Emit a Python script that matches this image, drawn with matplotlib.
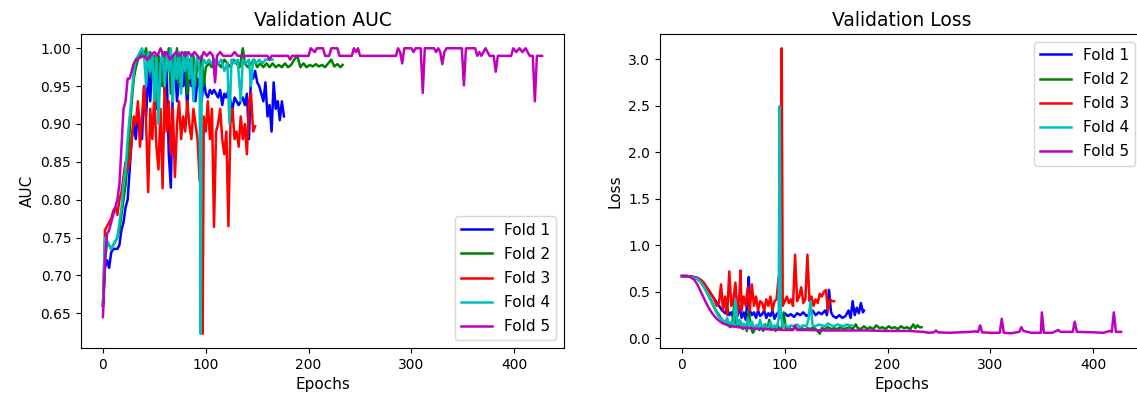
import matplotlib
matplotlib.use('Agg')
import matplotlib.pyplot as plt

# Validation AUC je Fold (Epoche, Wert)
f1_auc_ep = [0, 2, 4, 6, 8, 10, 12, 14, 16, 18, 20, 22, 24, 26, 28, 30, 32, 34, 36, 38, 40, 42, 44, 46, 48, 50,
             52, 54, 56, 58, 60, 62, 64, 66, 68, 70, 72, 74, 76, 78, 80, 82, 84, 86, 88, 90, 92, 94, 96, 98, 100,
             102, 104, 106, 108, 110, 112, 114, 116, 118, 120, 122, 124, 126, 128, 130, 132, 134, 136, 138, 140,
             142, 144, 146, 148, 150, 152, 154, 156, 158, 160, 162, 164, 166, 168, 170, 172, 174, 176]
f1_auc = [0.66, 0.71, 0.72, 0.71, 0.73, 0.735, 0.735, 0.735, 0.74, 0.76, 0.77, 0.79, 0.80, 0.84, 0.88, 0.90, 0.88,
          0.92, 0.90, 0.88, 0.95, 0.91, 0.97, 0.93, 0.99, 0.96, 0.92, 0.98, 0.95, 0.99, 0.94, 0.97, 0.86, 0.816,
          0.95, 0.98, 0.93, 0.96, 0.99, 0.95, 0.97, 0.92, 0.98, 0.95, 0.97, 0.93, 0.96, 0.95, 0.93, 0.96, 0.94,
          0.935, 0.945, 0.94, 0.945, 0.94, 0.935, 0.945, 0.925, 0.94, 0.935, 0.945, 0.93, 0.92, 0.935, 0.93,
          0.925, 0.93, 0.935, 0.925, 0.94, 0.88, 0.965, 0.96, 0.97, 0.955, 0.95, 0.94, 0.93, 0.955, 0.91, 0.925,
          0.89, 0.955, 0.92, 0.93, 0.905, 0.93, 0.91]

f2_auc_ep = [0, 2, 4, 6, 8, 10, 12, 14, 16, 18, 20, 22, 24, 26, 28, 30, 32, 34, 36, 38, 40, 42, 44, 46, 48, 50,
             52, 54, 56, 58, 60, 62, 64, 66, 68, 70, 72, 74, 76, 78, 80, 82, 84, 86, 88, 90, 92, 94, 96, 98, 100,
             103, 106, 109, 112, 115, 118, 121, 124, 127, 130, 133, 136, 138, 141, 144, 147, 150, 153, 156, 159,
             162, 165, 168, 171, 174, 177, 180, 183, 186, 189, 192, 195, 198, 201, 204, 207, 210, 213, 216, 219,
             222, 225, 228, 231, 233]
f2_auc = [0.66, 0.72, 0.745, 0.74, 0.735, 0.74, 0.745, 0.75, 0.76, 0.78, 0.80, 0.82, 0.85, 0.89, 0.93, 0.96, 0.975,
          0.985, 0.99, 0.995, 0.99, 1.0, 0.97, 0.995, 0.96, 0.99, 0.93, 0.99, 0.98, 0.95, 0.995, 0.97, 1.0, 0.94,
          0.99, 0.96, 1.0, 0.95, 0.99, 0.97, 0.995, 0.94, 0.985, 0.96, 0.99, 0.95, 0.985, 0.97, 0.99, 0.95, 0.975,
          0.98, 0.975, 0.985, 0.98, 0.975, 0.985, 0.98, 0.975, 0.985, 0.98, 0.975, 1.0, 0.98, 0.975, 0.98, 0.985,
          0.975, 0.98, 0.975, 0.98, 0.975, 0.98, 0.975, 0.978, 0.975, 0.98, 0.975, 0.978, 0.985, 0.99, 0.975,
          0.98, 0.975, 0.978, 0.976, 0.979, 0.976, 0.978, 0.975, 0.98, 0.985, 0.976, 0.979, 0.975, 0.978]

f3_auc_ep = [0, 2, 4, 6, 8, 10, 12, 14, 16, 18, 20, 22, 24, 26, 28, 30, 32, 34, 36, 38, 40, 42, 44, 46, 48, 50,
             52, 54, 56, 58, 60, 62, 64, 66, 68, 70, 72, 74, 76, 78, 80, 82, 84, 86, 88, 90, 92, 94, 96, 97, 98,
             100, 102, 104, 106, 108, 110, 112, 114, 116, 118, 120, 122, 124, 126, 128, 130, 132, 134, 136, 138,
             140, 142, 144, 146, 148]
f3_auc = [0.66, 0.76, 0.765, 0.77, 0.775, 0.785, 0.79, 0.78, 0.80, 0.81, 0.83, 0.85, 0.84, 0.85, 0.88, 0.91, 0.90,
          0.93, 0.87, 0.91, 0.95, 0.90, 0.81, 0.92, 0.88, 0.94, 0.87, 0.84, 0.92, 0.815, 0.95, 0.89, 0.93, 0.86,
          0.92, 0.83, 0.90, 0.93, 0.88, 0.91, 0.89, 0.93, 0.90, 0.88, 0.92, 0.90, 0.88, 0.825, 0.90, 0.623, 0.91,
          0.89, 0.93, 0.88, 0.92, 0.764, 0.89, 0.90, 0.92, 0.88, 0.86, 0.89, 0.765, 0.90, 0.92, 0.88, 0.89, 0.87,
          0.91, 0.88, 0.90, 0.86, 0.93, 0.94, 0.89, 0.897]

f4_auc_ep = [0, 2, 4, 6, 8, 10, 12, 14, 16, 18, 20, 22, 24, 26, 28, 30, 32, 34, 36, 38, 40, 42, 44, 46, 48, 50,
             52, 54, 56, 58, 60, 62, 64, 66, 68, 70, 72, 74, 76, 78, 80, 82, 84, 86, 88, 90, 92, 94, 95, 96, 98,
             100, 103, 106, 109, 112, 115, 118, 121, 123, 125, 128, 131, 134, 136, 139, 142, 144, 146, 149, 152,
             155, 158, 161, 165]
f4_auc = [0.66, 0.75, 0.745, 0.74, 0.735, 0.74, 0.745, 0.75, 0.77, 0.79, 0.82, 0.84, 0.88, 0.91, 0.94, 0.97, 0.985,
          0.99, 0.995, 1.0, 0.99, 0.95, 0.995, 0.97, 0.99, 0.93, 0.99, 0.90, 0.98, 0.995, 0.95, 0.99, 0.97, 1.0,
          0.93, 0.99, 0.96, 0.995, 0.94, 0.99, 0.97, 0.995, 0.96, 0.99, 0.93, 0.98, 0.99, 0.97, 0.623, 0.97, 0.985,
          0.98, 0.985, 0.98, 0.985, 0.98, 0.985, 0.97, 0.98, 0.90, 0.985, 0.98, 0.985, 0.93, 0.985, 0.98, 0.985,
          0.95, 0.985, 0.98, 0.985, 0.98, 0.985, 0.985, 0.985]

f5_auc_ep = [0, 2, 4, 6, 8, 10, 12, 14, 16, 18, 20, 22, 24, 26, 28, 30, 32, 35, 40, 43, 46, 50, 53, 56, 59, 62,
             65, 68, 71, 74, 77, 80, 83, 86, 89, 92, 95, 98, 101, 104, 107, 109, 111, 114, 117, 120, 125, 128, 131,
             150, 160, 162, 164, 170, 180, 182, 184, 200, 202, 206, 208, 214, 216, 220, 222, 228, 230, 242, 244,
             246, 248, 250, 285, 287, 289, 291, 293, 300, 302, 304, 309, 311, 313, 322, 324, 326, 328, 330, 332,
             334, 349, 351, 353, 362, 364, 366, 368, 372, 374, 376, 380, 382, 384, 397, 399, 402, 405, 408, 411,
             413, 415, 418, 420, 422, 427]
f5_auc = [0.645, 0.72, 0.755, 0.76, 0.77, 0.78, 0.79, 0.80, 0.82, 0.87, 0.92, 0.93, 0.96, 0.96, 0.97, 0.98, 0.985,
          0.987, 0.99, 0.985, 0.99, 0.995, 0.99, 1.0, 0.99, 0.995, 0.985, 0.99, 0.995, 0.99, 0.995, 0.99, 0.995,
          0.99, 0.995, 0.99, 0.985, 0.995, 0.99, 0.995, 0.99, 0.955, 0.99, 0.995, 0.99, 0.99, 0.99, 0.995, 0.99,
          0.99, 0.99, 0.985, 0.99, 0.99, 0.99, 0.985, 0.99, 0.99, 1.0, 0.995, 1.0, 1.0, 0.99, 0.99, 1.0, 1.0,
          0.99, 0.99, 1.0, 0.995, 1.0, 0.99, 0.99, 1.0, 0.995, 0.98, 1.0, 1.0, 0.995, 1.0, 1.0, 0.941, 1.0, 1.0,
          0.995, 1.0, 0.995, 0.979, 0.995, 1.0, 1.0, 0.951, 1.0, 1.0, 0.99, 0.995, 0.99, 1.0, 0.995, 0.99, 0.99,
          0.969, 0.99, 0.99, 1.0, 0.995, 1.0, 0.995, 1.0, 0.995, 0.99, 0.99, 0.93, 0.99, 0.99]

# Validation Loss je Fold
f1_loss_ep = [0, 5, 10, 15, 18, 21, 24, 27, 30, 33, 36, 39, 42, 44, 46, 48, 50, 52, 54, 56, 58, 60, 62, 64, 65,
              66, 68, 70, 72, 74, 76, 78, 80, 82, 84, 86, 88, 90, 92, 94, 96, 98, 100, 103, 106, 109, 112, 115,
              118, 121, 124, 127, 130, 133, 136, 139, 141, 143, 145, 147, 150, 153, 156, 159, 162, 164, 166, 168,
              170, 172, 174, 176, 177]
f1_loss = [0.67, 0.67, 0.665, 0.65, 0.63, 0.60, 0.55, 0.50, 0.45, 0.40, 0.35, 0.30, 0.27, 0.32, 0.25, 0.28, 0.22,
           0.30, 0.24, 0.35, 0.22, 0.28, 0.20, 0.45, 0.66, 0.30, 0.25, 0.28, 0.22, 0.30, 0.24, 0.26, 0.30, 0.22,
           0.27, 0.24, 0.30, 0.21, 0.26, 0.28, 0.22, 0.25, 0.27, 0.24, 0.26, 0.23, 0.27, 0.25, 0.28, 0.24, 0.26,
           0.30, 0.25, 0.28, 0.26, 0.30, 0.25, 0.52, 0.28, 0.24, 0.22, 0.25, 0.22, 0.24, 0.30, 0.22, 0.40, 0.25,
           0.33, 0.27, 0.38, 0.28, 0.30]

f2_loss_ep = [0, 5, 10, 15, 18, 21, 24, 27, 30, 33, 36, 39, 42, 45, 47, 49, 51, 53, 55, 57, 59, 61, 63, 65, 67,
              69, 71, 73, 75, 77, 79, 81, 83, 85, 87, 89, 91, 93, 95, 97, 99, 101, 104, 107, 110, 113, 116, 119,
              122, 125, 128, 131, 134, 136, 139, 142, 145, 148, 151, 154, 157, 160, 163, 166, 169, 171, 174, 177,
              180, 183, 186, 189, 192, 195, 198, 201, 204, 207, 210, 213, 216, 219, 222, 225, 227, 229, 231, 233]
f2_loss = [0.67, 0.67, 0.66, 0.64, 0.61, 0.56, 0.50, 0.44, 0.37, 0.30, 0.25, 0.20, 0.17, 0.14, 0.12, 0.15, 0.40,
           0.15, 0.12, 0.18, 0.10, 0.14, 0.08, 0.30, 0.12, 0.06, 0.10, 0.14, 0.09, 0.12, 0.08, 0.15, 0.10, 0.20,
           0.09, 0.12, 0.08, 0.14, 0.10, 0.11, 0.28, 0.10, 0.12, 0.09, 0.11, 0.10, 0.12, 0.09, 0.11, 0.10, 0.12,
           0.09, 0.05, 0.11, 0.10, 0.12, 0.10, 0.11, 0.10, 0.12, 0.10, 0.11, 0.12, 0.10, 0.15, 0.11, 0.10, 0.13,
           0.10, 0.12, 0.10, 0.14, 0.11, 0.12, 0.10, 0.13, 0.11, 0.12, 0.10, 0.13, 0.11, 0.12, 0.10, 0.15, 0.11,
           0.14, 0.12, 0.12]

f3_loss_ep = [0, 5, 10, 15, 18, 21, 24, 27, 30, 32, 34, 36, 38, 40, 42, 44, 46, 48, 50, 52, 54, 56, 57, 58, 60,
              62, 64, 66, 68, 70, 72, 74, 76, 78, 80, 82, 84, 86, 88, 90, 92, 94, 96, 97, 98, 100, 102, 104, 106,
              108, 110, 112, 114, 116, 118, 120, 122, 124, 126, 128, 130, 132, 134, 136, 138, 140, 142, 144, 146,
              148]
f3_loss = [0.67, 0.67, 0.665, 0.65, 0.63, 0.60, 0.55, 0.50, 0.45, 0.40, 0.35, 0.38, 0.58, 0.30, 0.45, 0.25, 0.72,
           0.35, 0.42, 0.60, 0.25, 0.50, 0.73, 0.30, 0.45, 0.35, 0.55, 0.30, 0.58, 0.35, 0.45, 0.30, 0.40, 0.38,
           0.30, 0.42, 0.35, 0.45, 0.30, 0.40, 0.42, 0.66, 0.30, 3.12, 0.35, 0.40, 0.45, 0.38, 0.42, 0.35, 0.90,
           0.40, 0.45, 0.55, 0.38, 0.42, 0.90, 0.40, 0.45, 0.35, 0.42, 0.38, 0.48, 0.45, 0.50, 0.52, 0.30, 0.42,
           0.40, 0.40]

f4_loss_ep = [0, 5, 10, 15, 18, 21, 24, 27, 30, 33, 36, 39, 42, 44, 46, 48, 50, 52, 54, 56, 58, 60, 62, 64, 66,
              68, 70, 72, 74, 76, 78, 80, 82, 84, 86, 88, 90, 92, 94, 95, 96, 98, 100, 103, 106, 109, 112, 115,
              118, 121, 123, 125, 127, 130, 133, 136, 139, 142, 145, 148, 151, 154, 157, 160, 163, 165]
f4_loss = [0.67, 0.67, 0.66, 0.64, 0.61, 0.56, 0.50, 0.43, 0.36, 0.29, 0.23, 0.20, 0.17, 0.22, 0.14, 0.18, 0.12,
           0.42, 0.15, 0.20, 0.12, 0.16, 0.10, 0.22, 0.12, 0.18, 0.10, 0.14, 0.11, 0.20, 0.10, 0.15, 0.12, 0.10,
           0.18, 0.11, 0.14, 0.12, 0.20, 2.50, 0.30, 0.12, 0.15, 0.12, 0.14, 0.13, 0.15, 0.12, 0.14, 0.13, 0.20,
           0.40, 0.14, 0.13, 0.15, 0.14, 0.13, 0.16, 0.14, 0.13, 0.15, 0.14, 0.13, 0.15, 0.14, 0.14]

f5_loss_ep = [0, 4, 8, 12, 15, 18, 21, 24, 27, 30, 33, 36, 40, 45, 50, 55, 60, 70, 80, 90, 100, 108, 110, 112,
              120, 140, 160, 180, 200, 220, 235, 240, 245, 247, 249, 260, 270, 280, 285, 288, 290, 292, 300, 309,
              311, 313, 320, 328, 330, 332, 340, 349, 350, 352, 360, 366, 368, 375, 380, 382, 384, 400, 410, 416,
              418, 420, 422, 427]
f5_loss = [0.67, 0.67, 0.66, 0.63, 0.58, 0.51, 0.44, 0.37, 0.31, 0.26, 0.22, 0.19, 0.16, 0.14, 0.13, 0.12, 0.115,
           0.105, 0.10, 0.095, 0.09, 0.09, 0.14, 0.09, 0.09, 0.085, 0.085, 0.085, 0.08, 0.08, 0.07, 0.06, 0.065,
           0.085, 0.065, 0.06, 0.065, 0.07, 0.075, 0.07, 0.14, 0.065, 0.06, 0.06, 0.21, 0.06, 0.055, 0.07, 0.12,
           0.08, 0.06, 0.06, 0.28, 0.06, 0.06, 0.09, 0.07, 0.07, 0.07, 0.18, 0.07, 0.065, 0.06, 0.08, 0.07, 0.28,
           0.07, 0.07]

labels = ['Fold 1', 'Fold 2', 'Fold 3', 'Fold 4', 'Fold 5']
farben = ['b', 'g', 'r', 'c', 'm']

auc_daten = [(f1_auc_ep, f1_auc), (f2_auc_ep, f2_auc), (f3_auc_ep, f3_auc), (f4_auc_ep, f4_auc), (f5_auc_ep, f5_auc)]
loss_daten = [(f1_loss_ep, f1_loss), (f2_loss_ep, f2_loss), (f3_loss_ep, f3_loss), (f4_loss_ep, f4_loss),
              (f5_loss_ep, f5_loss)]

fig = plt.figure(figsize=(11.37, 4.0), dpi=100)
ax1 = fig.add_axes([81 / 1137, 52 / 400, 483 / 1137, 314 / 400])
ax2 = fig.add_axes([660 / 1137, 52 / 400, 483 / 1137, 314 / 400])

# Linkes Diagramm: AUC
for (ep, werte), lab, col in zip(auc_daten, labels, farben):
    ax1.plot(ep, werte, color=col, label=lab, linewidth=1.8)
ax1.set_title('Validation AUC', fontsize=13.5)
ax1.set_xlabel('Epochs', fontsize=11)
ax1.set_ylabel('AUC', fontsize=11)
ax1.legend(loc='lower right', fontsize=11, labelspacing=0.6)

# Rechtes Diagramm: Loss
for (ep, werte), lab, col in zip(loss_daten, labels, farben):
    ax2.plot(ep, werte, color=col, label=lab, linewidth=1.8)
ax2.set_title('Validation Loss', fontsize=13.5)
ax2.set_xlabel('Epochs', fontsize=11)
ax2.set_ylabel('Loss', fontsize=11)
ax2.legend(loc='upper right', fontsize=11, labelspacing=0.6)

for ax in (ax1, ax2):
    ax.tick_params(labelsize=10)

fig.savefig('out.png', dpi=100)
